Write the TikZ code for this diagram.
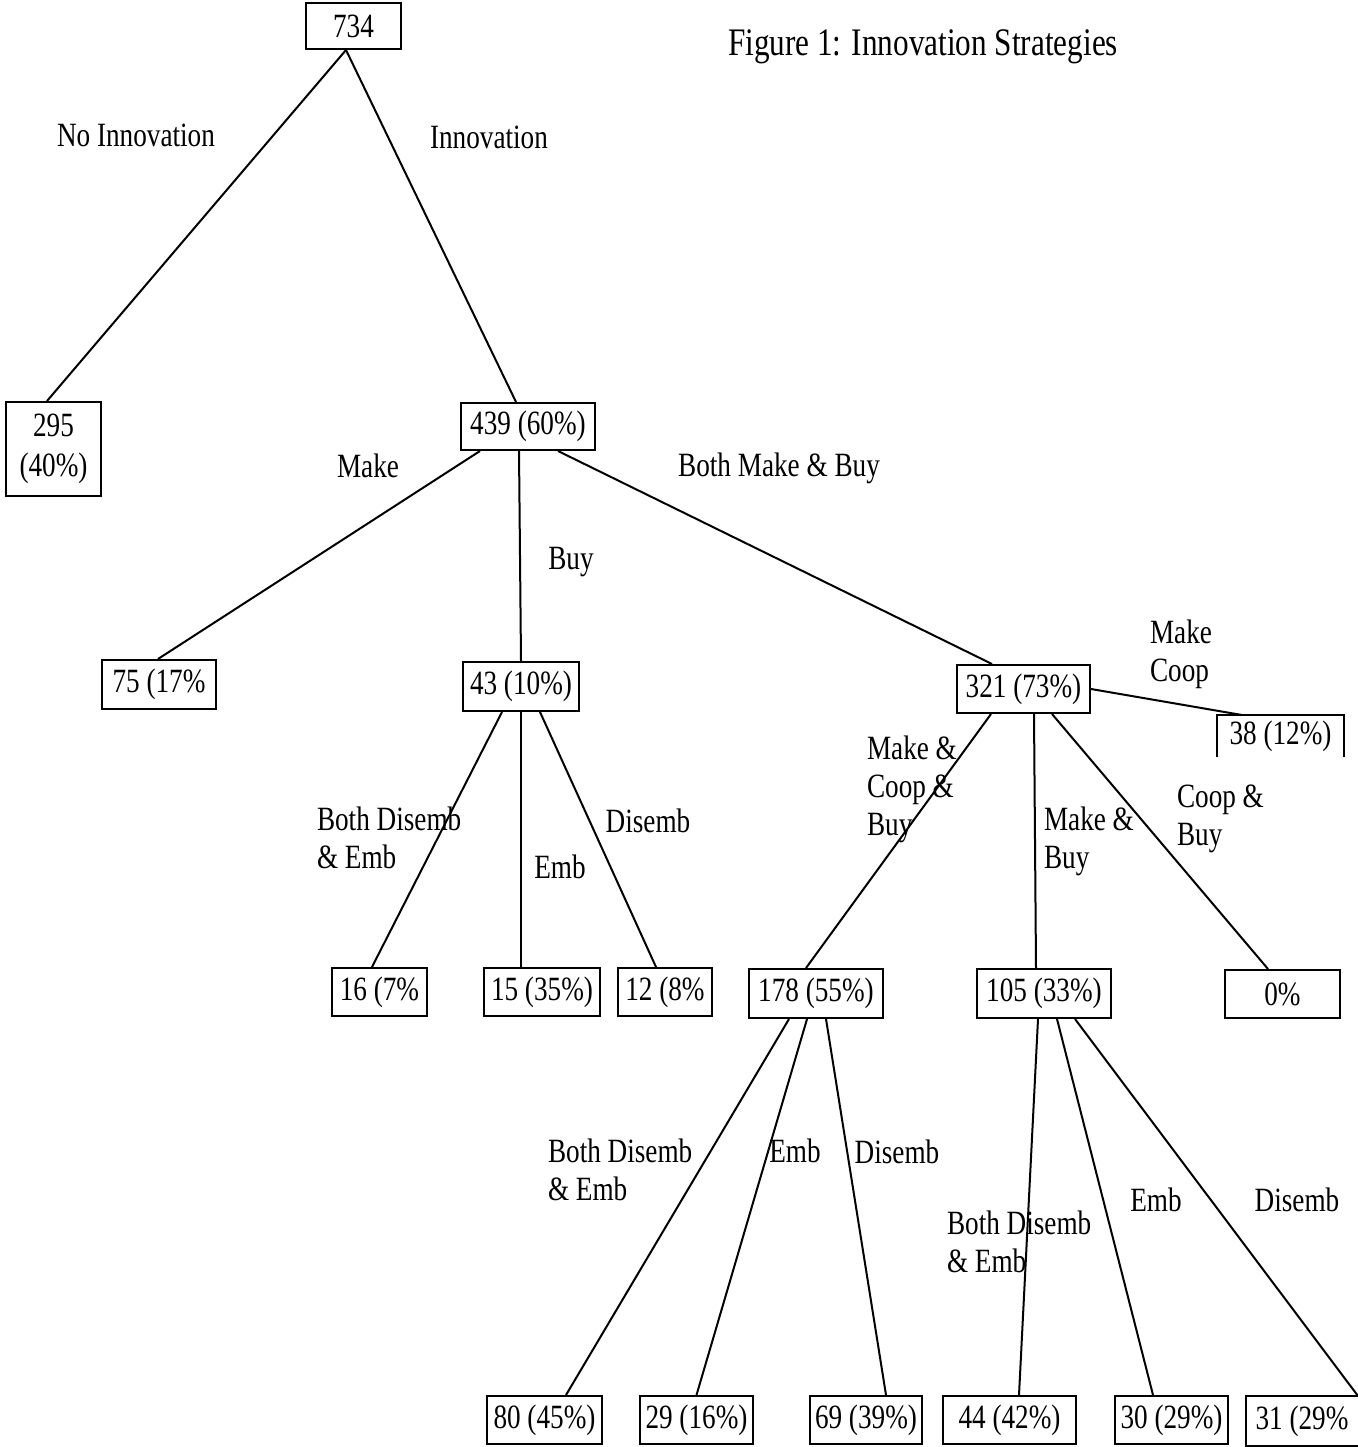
\documentclass[tikz,border=0pt]{standalone}
\usepackage{fontspec}
\setmainfont[FakeStretch=0.8]{Liberation Serif}
\usetikzlibrary{calc}
\begin{document}
\begin{tikzpicture}[x=1pt,y=-1pt,line width=2pt,
  box/.style={draw,rectangle,inner sep=0pt,font=\fontsize{34}{40}\selectfont,align=center},
  lbl/.style={inner sep=0pt,font=\fontsize{34}{38}\selectfont,align=left},
  con/.style={line width=2pt}]
\useasboundingbox (0,0) rectangle (1357,1447);
% boxes
\node[box,minimum width=95pt,minimum height=46pt] (n734) at (353.5,26) {734};
\node[box,minimum width=95pt,minimum height=94pt] (n295) at (53.5,449) {295\\(40\%)};
\node[box,minimum width=134pt,minimum height=47pt] (n439) at (528,426.5) {439 (60\%)};
\node[box,minimum width=114pt,minimum height=49pt] (n75) at (159,684.5) {75 (17\%};
\node[box,minimum width=116pt,minimum height=49pt] (n43) at (521,686.5) {43 (10\%)};
\node[box,minimum width=133pt,minimum height=48pt] (n321) at (1023.5,689) {321 (73\%)};
\node[box,draw=none,minimum width=125pt,minimum height=40pt] (n38) at (1280.5,736) {38 (12\%)};
\draw (n38.south west) -- (n38.north west) -- (n38.north east) -- (n38.south east);
\node[box,minimum width=95pt,minimum height=48pt] (n16) at (379.5,992) {16 (7\%};
\node[box,minimum width=116pt,minimum height=48pt] (n15) at (542,992) {15 (35\%)};
\node[box,minimum width=94pt,minimum height=48pt] (n12) at (665,992) {12 (8\%};
\node[box,minimum width=134pt,minimum height=49pt] (n178) at (816,993.5) {178 (55\%)};
\node[box,minimum width=134pt,minimum height=49pt] (n105) at (1044,993.5) {105 (33\%)};
\node[box,minimum width=115pt,minimum height=48pt] (n0) at (1282.5,994) {0\%};
\node[box,minimum width=115pt,minimum height=48pt] (n80) at (544.5,1420) {80 (45\%)};
\node[box,minimum width=113pt,minimum height=48pt] (n29) at (696.5,1420) {29 (16\%)};
\node[box,minimum width=112pt,minimum height=48pt] (n69) at (866,1420) {69 (39\%)};
\node[box,minimum width=133pt,minimum height=48pt] (n44) at (1009.5,1420) {44 (42\%)};
\node[box,minimum width=113pt,minimum height=48pt] (n30) at (1171.5,1420) {30 (29\%)};
\node[box,draw=none,minimum width=110pt,minimum height=48pt] (n31) at (1302,1421) {31 (29\%};
\draw (n31.north east) -- (n31.north west) -- (n31.south west) -- (n31.south east);
% connectors
\draw[con] ($(n734.south)+(-7.5,0)$) -- ($(n295.north)+(-6.5,0)$);
\draw[con] ($(n734.south)+(-7.5,0)$) -- ($(n439.north)+(-12,0)$);
\draw[con] ($(n439.south)+(-48,0)$) -- ($(n75.north)+(-1,0)$);
\draw[con] ($(n439.south)+(-9,0)$) -- (n43.north);
\draw[con] ($(n439.south)+(30,0)$) -- ($(n321.north)+(-31.5,0)$);
\draw[con] ($(n43.south)+(-19,0)$) -- ($(n16.north)+(-7.5,0)$);
\draw[con] (n43.south) -- ($(n15.north)+(-21,0)$);
\draw[con] ($(n43.south)+(19,0)$) -- ($(n12.north)+(-9,0)$);
\draw[con] ($(n321.south)+(-32.5,0)$) -- ($(n178.north)+(-10,0)$);
\draw[con] ($(n321.south)+(10.5,0)$) -- ($(n105.north)+(-8,0)$);
\draw[con] ($(n321.south)+(28.5,0)$) -- ($(n0.north)+(-14.5,0)$);
\draw[con] (n321.east) -- ($(n38.north west)+(25,0)$);
\draw[con] ($(n178.south)+(-27,0)$) -- ($(n80.north)+(21.5,0)$);
\draw[con] ($(n178.south)+(-9,0)$) -- (n29.north);
\draw[con] ($(n178.south)+(10,0)$) -- ($(n69.north)+(20,0)$);
\draw[con] ($(n105.south)+(-6,0)$) -- ($(n44.north)+(9.5,0)$);
\draw[con] ($(n105.south)+(13,0)$) -- ($(n30.north)+(-18.5,0)$);
\draw[con] ($(n105.south)+(31,0)$) -- (n31.north east);
% labels
\node[inner sep=0pt,font=\fontsize{39}{44}\selectfont] (title) at (923,47) {Figure 1: Innovation Strategies};
\node[lbl] (lnoinn) at (136,135) {No Innovation};
\node[lbl] (linn) at (489,137) {Innovation};
\node[lbl] (lmake) at (368,466) {Make};
\node[lbl] (lboth) at (779,468) {Both Make \& Buy};
\node[lbl] (lbuy) at (571,562) {Buy};
\node[lbl,anchor=west] (lmc) at (1149,654) {Make\\Coop};
\node[lbl,anchor=west] (lmcb) at (866,789) {Make \&\\Coop \&\\Buy};
\node[lbl,anchor=west] (lbde1) at (316,838) {Both Disemb\\\& Emb};
\node[lbl] (lemb1) at (560,867) {Emb};
\node[lbl] (ldis1) at (648,821) {Disemb};
\node[lbl,anchor=west] (lmb) at (1043,841) {Make \&\\Buy};
\node[lbl,anchor=west] (lcb) at (1176,819) {Coop \&\\Buy};
\node[lbl,anchor=west] (lbde2) at (547,1170) {Both Disemb\\\& Emb};
\node[lbl] (lemb2) at (795,1151) {Emb};
\node[lbl] (ldis2) at (897,1152) {Disemb};
\node[lbl,anchor=west] (lbde3) at (946,1242) {Both Disemb\\\& Emb};
\node[lbl] (lemb3) at (1156,1200) {Emb};
\node[lbl] (ldis3) at (1297,1200) {Disemb};
\end{tikzpicture}
\end{document}
